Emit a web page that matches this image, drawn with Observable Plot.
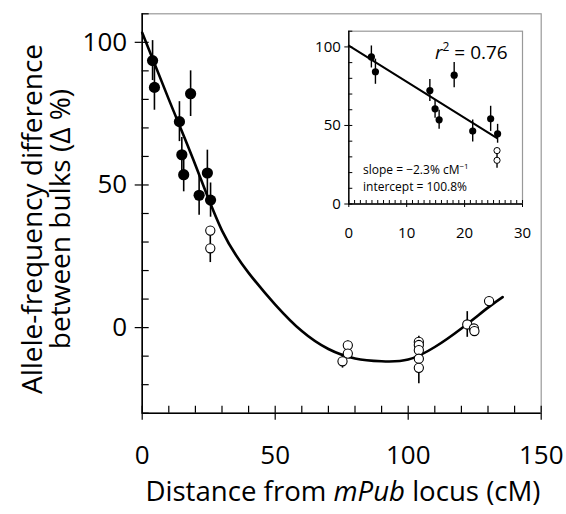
<!DOCTYPE html>
<html><head><meta charset="utf-8">
<script src="https://cdn.jsdelivr.net/npm/d3@7"></script>
<script src="https://cdn.jsdelivr.net/npm/@observablehq/plot@0.6"></script>
<style>body{margin:0;background:#fff} #wrap{position:relative;width:566px;height:514px} #inset{position:absolute;left:298px;top:15px}</style>
</head><body><div id="wrap"><div id="main"></div><div id="inset"></div></div>
<script>
// filled circles (markers closest to mPub)
const filledX = [3.9, 4.6, 14.0, 14.9, 15.6, 18.2, 21.4, 24.5, 25.7];
const filledY = [93.6, 84.2, 72.2, 60.6, 53.6, 82.0, 46.4, 54.2, 44.7];
const filledErr = [7, 8, 7, 6, 6, 8, 7, 8, 6];
// open circles
const openX = [25.6, 25.6, 77.3, 77.3, 75.3, 104.0, 104.0, 104.0, 104.0, 104.0, 122.2, 124.7, 124.9, 130.4];
const openY = [34.0, 27.8, -6.2, -9.1, -11.8, -5.0, -6.1, -7.9, -10.9, -14.1, 1.1, -0.3, -1.2, 9.3];
const openErr = [0, 5, 1.5, 0, 2.4, 2, 0, 0, 0, 5.6, 4.5, 0, 0, 0];
// fitted curve
const fitX = [0, 10, 20, 30, 40, 50, 60, 70, 80, 90, 100, 110, 120, 130, 135.5];
const fitY = [103.4, 80, 57, 34, 19.2, 8.1, -1.2, -7.5, -10.8, -11.8, -11.2, -6.8, -0.3, 7, 10.7];
// inset regression line
const insetFitX = [0, 25.6];
const insetFitY = [100.8, 41.9];
// ticks
const xMajor = [0, 50, 100, 150];
const xMinor = [0, 10, 20, 30, 40, 50, 60, 70, 80, 90, 100, 110, 120, 130, 140, 150];
const yMajor = [0, 50, 100];
const yMinor = [-30, -20, -10, 0, 10, 20, 30, 40, 50, 60, 70, 80, 90, 100, 110];
const inXMajor = [0, 10, 20, 30];
const inXMinor = [0,1,2,3,4,5,6,7,8,9,10,11,12,13,14,15,16,17,18,19,20,21,22,23,24,25,26,27,28,29,30];
const inYMajor = [0, 50, 100];
const inYMinor = [0, 10, 20, 30, 40, 50, 60, 70, 80, 90, 100, 110];

const filled = filledX.map((x, i) => ({x, y: filledY[i], e: filledErr[i]}));
const open = openX.map((x, i) => ({x, y: openY[i], e: openErr[i]}));
const fit = fitX.map((x, i) => ({x, y: fitY[i]}));
const insetFit = insetFitX.map((x, i) => ({x, y: insetFitY[i]}));
const all = filled.concat(open);
const FONT = "Open Sans";

const main = Plot.plot({
  width: 566, height: 514,
  marginLeft: 141.7, marginRight: 25.3, marginTop: 13.3, marginBottom: 101.3,
  style: {fontFamily: FONT, color: "black", background: "white"},
  x: {domain: [0, 150], label: null, axis: null},
  y: {domain: [-30, 110], label: null, axis: null},
  marks: [
    Plot.frame({stroke: "#999", strokeWidth: 1.2}),
    Plot.line(fit, {x: "x", y: "y", curve: "natural", strokeWidth: 2.6, stroke: "black"}),
    Plot.ruleX(all.filter(d => d.e > 0), {x: "x", y1: d => d.y - d.e, y2: d => d.y + d.e, strokeWidth: 1.6}),
    Plot.dot(open, {x: "x", y: "y", r: 4.6, fill: "white", stroke: "black", strokeWidth: 1.1}),
    Plot.dot(filled, {x: "x", y: "y", r: 5.6, fill: "black"}),
    Plot.ruleX([0], {strokeWidth: 1.6}),
    Plot.ruleY([-30], {strokeWidth: 1.6}),
    Plot.axisX(xMinor, {tickSize: -7, tickFormat: () => "", strokeWidth: 1.2}),
    Plot.axisX(xMajor, {tickSize: 7, tickPadding: 25, fontSize: 26, strokeWidth: 1.2}),
    Plot.axisY(yMinor, {tickSize: -7, tickFormat: () => "", strokeWidth: 1.2}),
    Plot.axisY(yMajor, {tickSize: 7, tickPadding: 8, fontSize: 26, strokeWidth: 1.2})
  ]
});
document.getElementById("main").appendChild(main);

const msvg = d3.select(main);
const xl = msvg.append("text").attr("x", 343).attr("y", 501).attr("text-anchor", "middle")
  .attr("font-family", FONT).attr("font-size", 27.6).attr("fill", "black");
xl.append("tspan").text("Distance from ");
xl.append("tspan").attr("font-style", "italic").text("mPub");
xl.append("tspan").text(" locus (cM)");
const yl = msvg.append("text").attr("transform", "translate(0,219) rotate(-90)").attr("text-anchor", "middle")
  .attr("font-family", FONT).attr("font-size", 28).attr("fill", "black");
yl.append("tspan").attr("x", 0).attr("y", 42).text("Allele-frequency difference");
yl.append("tspan").attr("x", 0).attr("y", 70).text("between bulks (Δ %)");

const inset = Plot.plot({
  width: 240, height: 230,
  marginLeft: 50.3, marginRight: 16, marginTop: 15.7, marginBottom: 41.5,
  style: {fontFamily: FONT, color: "black", background: "transparent"},
  x: {domain: [0, 30], label: null, axis: null},
  y: {domain: [0, 110], label: null, axis: null},
  marks: [
    Plot.frame({stroke: "#999", strokeWidth: 1.2}),
    Plot.line(insetFit, {x: "x", y: "y", strokeWidth: 2, stroke: "black"}),
    Plot.ruleX(all.filter(d => d.x <= 30 && d.e > 0), {x: "x", y1: d => d.y - d.e, y2: d => d.y + d.e, strokeWidth: 1.4}),
    Plot.dot(open.filter(d => d.x <= 30), {x: "x", y: "y", r: 3.1, fill: "white", stroke: "black", strokeWidth: 1}),
    Plot.dot(filled, {x: "x", y: "y", r: 3.6, fill: "black"}),
    Plot.ruleX([0], {strokeWidth: 1.4}),
    Plot.ruleY([0], {strokeWidth: 1.4}),
    Plot.axisX(inXMinor, {tickSize: -3.5, tickFormat: () => "", strokeWidth: 1}),
    Plot.axisX(inXMajor, {tickSize: 3.5, tickPadding: 20, fontSize: 15, strokeWidth: 1}),
    Plot.axisY(inYMinor, {tickSize: -4, tickFormat: () => "", strokeWidth: 1}),
    Plot.axisY(inYMajor, {tickSize: 4, tickPadding: 4, fontSize: 15, strokeWidth: 1})
  ]
});
document.getElementById("inset").appendChild(inset);
const isvg = d3.select(inset);
const r2 = isvg.append("text").attr("x", 137).attr("y", 44).attr("text-anchor", "start")
  .attr("font-family", FONT).attr("font-size", 19).attr("fill", "black");
r2.append("tspan").attr("font-style", "italic").text("r");
r2.append("tspan").attr("font-size", 12).attr("dy", -8).text("2");
r2.append("tspan").attr("dy", 8).text(" = 0.76");
const st = isvg.append("text").attr("x", 65).attr("y", 159).attr("text-anchor", "start")
  .attr("font-family", FONT).attr("font-size", 12).attr("fill", "black");
st.append("tspan").text("slope = −2.3% cM");
st.append("tspan").attr("font-size", 8).attr("dy", -5).text("−1");
isvg.append("text").attr("x", 65).attr("y", 176).attr("text-anchor", "start")
  .attr("font-family", FONT).attr("font-size", 12).attr("fill", "black").text("intercept = 100.8%");
</script>
</body></html>
